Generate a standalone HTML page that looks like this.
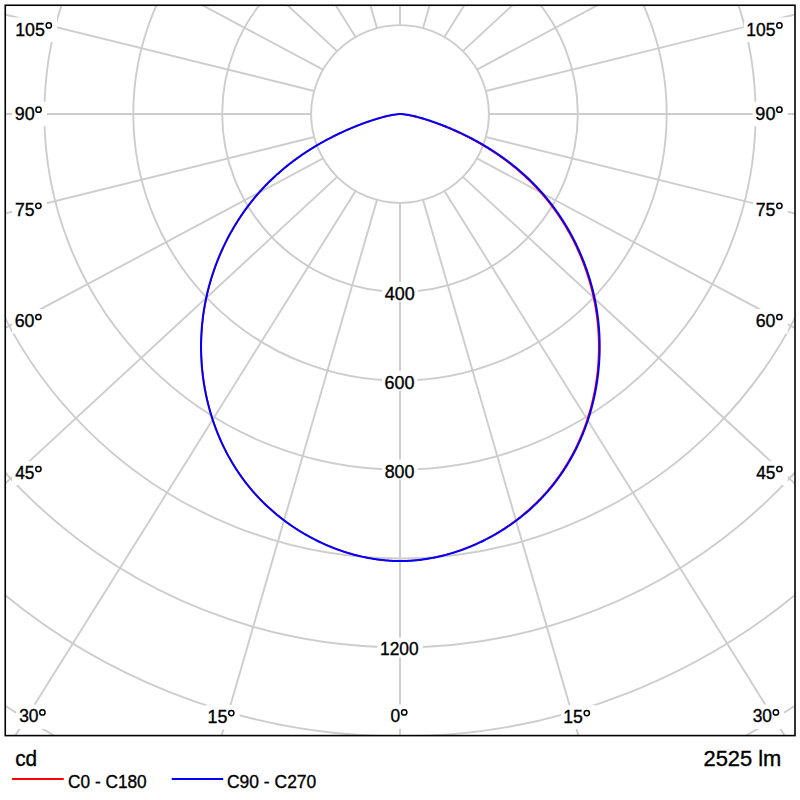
<!DOCTYPE html>
<html><head><meta charset="utf-8"><style>html,body{margin:0;padding:0;background:#fff;width:800px;height:800px;overflow:hidden}svg{display:block}</style></head>
<body><svg width="800" height="800" viewBox="0 0 800 800">
<defs><clipPath id="cp"><rect x="5.25" y="5.25" width="789.75" height="730.35"/></clipPath></defs>
<rect x="0" y="0" width="800" height="800" fill="#fff"/>
<g clip-path="url(#cp)" fill="none" stroke="#cdcdcd" stroke-width="1.90"><circle cx="400.00" cy="114.00" r="88.90"/><circle cx="400.00" cy="114.00" r="177.80"/><circle cx="400.00" cy="114.00" r="266.70"/><circle cx="400.00" cy="114.00" r="355.60"/><circle cx="400.00" cy="114.00" r="444.50"/><circle cx="400.00" cy="114.00" r="533.40"/><circle cx="400.00" cy="114.00" r="622.30"/><circle cx="400.00" cy="114.00" r="711.20"/><circle cx="400.00" cy="114.00" r="800.10"/><line x1="400.00" y1="202.90" x2="400.00" y2="1402.90"/><line x1="376.99" y1="199.87" x2="42.79" y2="1352.39"/><line x1="355.55" y1="190.99" x2="-280.31" y2="1208.68"/><line x1="337.14" y1="176.86" x2="-544.20" y2="991.26"/><line x1="323.01" y1="158.45" x2="-735.74" y2="723.29"/><line x1="314.13" y1="137.01" x2="-850.70" y2="425.42"/><line x1="311.10" y1="114.00" x2="-888.90" y2="114.00"/><line x1="314.13" y1="90.99" x2="-850.70" y2="-197.42"/><line x1="323.01" y1="69.55" x2="-735.74" y2="-495.29"/><line x1="337.14" y1="51.14" x2="-544.20" y2="-763.26"/><line x1="355.55" y1="37.01" x2="-280.31" y2="-980.68"/><line x1="376.99" y1="28.13" x2="42.79" y2="-1124.39"/><line x1="400.00" y1="25.10" x2="400.00" y2="-1174.90"/><line x1="423.01" y1="28.13" x2="757.21" y2="-1124.39"/><line x1="444.45" y1="37.01" x2="1080.31" y2="-980.68"/><line x1="462.86" y1="51.14" x2="1344.20" y2="-763.26"/><line x1="476.99" y1="69.55" x2="1535.74" y2="-495.29"/><line x1="485.87" y1="90.99" x2="1650.70" y2="-197.42"/><line x1="488.90" y1="114.00" x2="1688.90" y2="114.00"/><line x1="485.87" y1="137.01" x2="1650.70" y2="425.42"/><line x1="476.99" y1="158.45" x2="1535.74" y2="723.29"/><line x1="462.86" y1="176.86" x2="1344.20" y2="991.26"/><line x1="444.45" y1="190.99" x2="1080.31" y2="1208.68"/><line x1="423.01" y1="199.87" x2="757.21" y2="1352.39"/></g>
<g fill="#fff"><rect x="13.00" y="17.45" width="44.10" height="24.60"/><rect x="12.00" y="101.75" width="34.85" height="24.50"/><rect x="12.20" y="197.90" width="34.50" height="24.15"/><rect x="12.00" y="309.05" width="34.70" height="24.50"/><rect x="12.00" y="461.05" width="34.70" height="24.10"/><rect x="16.25" y="704.50" width="34.45" height="24.45"/><rect x="744.10" y="17.45" width="43.60" height="24.60"/><rect x="752.70" y="101.75" width="35.00" height="24.50"/><rect x="753.00" y="197.90" width="34.70" height="24.15"/><rect x="753.00" y="309.05" width="34.70" height="24.50"/><rect x="753.00" y="461.05" width="34.70" height="24.10"/><rect x="749.80" y="704.50" width="34.40" height="24.45"/><rect x="205.35" y="705.15" width="34.25" height="24.10"/><rect x="387.60" y="704.50" width="24.90" height="24.45"/><rect x="561.10" y="705.15" width="34.00" height="24.00"/><rect x="382.00" y="282.00" width="35.75" height="19.75"/><rect x="382.00" y="370.90" width="35.50" height="19.80"/><rect x="382.00" y="459.70" width="35.50" height="19.80"/><rect x="377.10" y="637.75" width="45.80" height="19.50"/></g>
<path d="M400.00,114.07 L399.15,114.20 L398.13,114.27 L397.11,114.37 L396.09,114.48 L395.07,114.62 L394.06,114.76 L393.05,114.93 L392.03,115.10 L391.02,115.29 L390.00,115.49 L388.99,115.71 L387.98,115.93 L386.96,116.17 L385.95,116.41 L384.93,116.67 L383.92,116.93 L382.90,117.20 L381.88,117.48 L380.86,117.77 L379.83,118.06 L378.81,118.36 L377.78,118.67 L376.75,118.98 L375.71,119.30 L374.68,119.62 L373.64,119.95 L372.61,120.29 L371.57,120.63 L370.53,120.97 L369.49,121.32 L368.44,121.68 L367.40,122.04 L366.36,122.41 L365.31,122.78 L364.26,123.16 L363.22,123.55 L362.17,123.93 L361.12,124.33 L360.07,124.73 L359.03,125.13 L357.98,125.54 L356.93,125.95 L355.88,126.37 L354.83,126.79 L353.79,127.22 L352.74,127.65 L351.70,128.09 L350.65,128.53 L349.61,128.98 L348.56,129.43 L347.52,129.88 L346.48,130.34 L345.44,130.81 L344.40,131.27 L343.37,131.75 L342.33,132.22 L341.30,132.70 L340.27,133.18 L339.24,133.67 L338.21,134.16 L337.19,134.66 L336.17,135.16 L335.14,135.66 L334.13,136.17 L333.11,136.68 L332.10,137.19 L331.08,137.71 L330.08,138.24 L329.07,138.76 L328.06,139.29 L327.06,139.83 L326.06,140.37 L325.06,140.91 L324.07,141.46 L323.08,142.01 L322.09,142.56 L321.10,143.12 L320.11,143.68 L319.13,144.25 L318.15,144.82 L317.17,145.39 L316.20,145.97 L315.23,146.55 L314.26,147.14 L313.29,147.73 L312.33,148.32 L311.37,148.92 L310.41,149.52 L309.45,150.12 L308.50,150.73 L307.55,151.35 L306.61,151.96 L305.66,152.58 L304.72,153.21 L303.78,153.84 L302.85,154.47 L301.92,155.11 L300.99,155.75 L300.06,156.40 L299.14,157.04 L298.22,157.70 L297.31,158.35 L296.39,159.02 L295.48,159.68 L294.58,160.35 L293.67,161.02 L292.77,161.70 L291.88,162.38 L290.98,163.06 L290.09,163.75 L289.21,164.45 L288.32,165.14 L287.44,165.84 L286.57,166.55 L285.70,167.26 L284.83,167.97 L283.96,168.69 L283.10,169.41 L282.24,170.13 L281.39,170.86 L280.54,171.59 L279.69,172.33 L278.85,173.07 L278.01,173.82 L277.17,174.56 L276.34,175.32 L275.51,176.07 L274.68,176.83 L273.86,177.60 L273.05,178.37 L272.23,179.14 L271.42,179.92 L270.62,180.70 L269.82,181.48 L269.02,182.27 L268.23,183.07 L267.44,183.86 L266.65,184.66 L265.87,185.47 L265.10,186.28 L264.33,187.09 L263.56,187.91 L262.79,188.73 L262.03,189.55 L261.28,190.38 L260.53,191.21 L259.78,192.05 L259.04,192.89 L258.30,193.73 L257.56,194.58 L256.83,195.43 L256.11,196.29 L255.38,197.15 L254.67,198.01 L253.95,198.88 L253.25,199.75 L252.54,200.62 L251.84,201.50 L251.14,202.38 L250.45,203.26 L249.77,204.15 L249.08,205.04 L248.40,205.93 L247.73,206.83 L247.06,207.73 L246.40,208.64 L245.73,209.54 L245.08,210.45 L244.43,211.37 L243.78,212.29 L243.14,213.21 L242.50,214.13 L241.86,215.06 L241.23,215.99 L240.61,216.92 L239.99,217.86 L239.37,218.80 L238.76,219.74 L238.15,220.69 L237.55,221.64 L236.95,222.59 L236.36,223.55 L235.77,224.50 L235.19,225.46 L234.61,226.43 L234.03,227.40 L233.46,228.36 L232.90,229.34 L232.34,230.31 L231.78,231.29 L231.23,232.27 L230.68,233.25 L230.14,234.24 L229.60,235.23 L229.07,236.22 L228.54,237.22 L228.02,238.21 L227.50,239.21 L226.98,240.21 L226.48,241.22 L225.97,242.22 L225.47,243.23 L224.98,244.25 L224.49,245.26 L224.00,246.28 L223.52,247.30 L223.04,248.32 L222.57,249.34 L222.11,250.37 L221.65,251.40 L221.19,252.43 L220.74,253.46 L220.29,254.49 L219.85,255.53 L219.42,256.57 L218.98,257.61 L218.56,258.66 L218.14,259.70 L217.72,260.75 L217.31,261.80 L216.90,262.85 L216.50,263.91 L216.10,264.96 L215.71,266.02 L215.32,267.08 L214.94,268.14 L214.57,269.21 L214.19,270.27 L213.83,271.34 L213.47,272.41 L213.11,273.48 L212.76,274.55 L212.41,275.63 L212.07,276.70 L211.73,277.78 L211.40,278.86 L211.08,279.94 L210.76,281.02 L210.44,282.11 L210.13,283.19 L209.83,284.28 L209.53,285.37 L209.23,286.46 L208.94,287.55 L208.66,288.64 L208.38,289.74 L208.11,290.83 L207.84,291.93 L207.57,293.03 L207.32,294.13 L207.06,295.23 L206.82,296.33 L206.58,297.44 L206.34,298.54 L206.11,299.65 L205.88,300.76 L205.66,301.87 L205.45,302.98 L205.24,304.09 L205.03,305.20 L204.83,306.31 L204.64,307.43 L204.45,308.54 L204.27,309.66 L204.09,310.77 L203.92,311.89 L203.75,313.01 L203.59,314.13 L203.44,315.25 L203.29,316.37 L203.14,317.49 L203.00,318.62 L202.87,319.74 L202.74,320.86 L202.62,321.99 L202.50,323.11 L202.39,324.24 L202.28,325.37 L202.18,326.49 L202.09,327.62 L202.00,328.75 L201.91,329.88 L201.83,331.01 L201.76,332.14 L201.69,333.27 L201.63,334.40 L201.57,335.53 L201.52,336.66 L201.48,337.79 L201.44,338.92 L201.40,340.06 L201.37,341.19 L201.35,342.32 L201.33,343.45 L201.31,344.58 L201.31,345.72 L201.30,346.85 L201.31,347.98 L201.32,349.11 L201.33,350.25 L201.35,351.38 L201.37,352.51 L201.40,353.64 L201.44,354.78 L201.48,355.91 L201.53,357.04 L201.58,358.17 L201.63,359.30 L201.70,360.43 L201.77,361.56 L201.84,362.69 L201.92,363.82 L202.00,364.95 L202.09,366.08 L202.19,367.21 L202.29,368.34 L202.39,369.46 L202.50,370.59 L202.62,371.71 L202.74,372.84 L202.87,373.96 L203.00,375.09 L203.14,376.21 L203.28,377.33 L203.43,378.46 L203.59,379.58 L203.75,380.70 L203.91,381.82 L204.08,382.93 L204.26,384.05 L204.44,385.17 L204.63,386.28 L204.82,387.40 L205.02,388.51 L205.22,389.62 L205.43,390.73 L205.64,391.84 L205.86,392.95 L206.08,394.06 L206.31,395.17 L206.55,396.27 L206.79,397.38 L207.03,398.48 L207.28,399.58 L207.54,400.68 L207.80,401.78 L208.07,402.88 L208.34,403.97 L208.62,405.07 L208.90,406.16 L209.19,407.25 L209.48,408.34 L209.78,409.43 L210.09,410.51 L210.40,411.60 L210.71,412.68 L211.03,413.76 L211.36,414.84 L211.69,415.92 L212.02,416.99 L212.36,418.07 L212.71,419.14 L213.06,420.21 L213.42,421.28 L213.78,422.35 L214.15,423.41 L214.53,424.47 L214.90,425.53 L215.29,426.59 L215.68,427.65 L216.07,428.70 L216.47,429.75 L216.88,430.80 L217.29,431.85 L217.70,432.90 L218.12,433.94 L218.55,434.98 L218.98,436.02 L219.42,437.05 L219.86,438.09 L220.31,439.12 L220.76,440.15 L221.22,441.17 L221.68,442.20 L222.15,443.22 L222.63,444.24 L223.10,445.25 L223.59,446.27 L224.08,447.28 L224.57,448.28 L225.07,449.29 L225.58,450.29 L226.09,451.29 L226.61,452.29 L227.13,453.28 L227.65,454.27 L228.18,455.26 L228.72,456.25 L229.26,457.23 L229.81,458.21 L230.36,459.19 L230.92,460.16 L231.49,461.13 L232.05,462.10 L232.63,463.06 L233.21,464.02 L233.79,464.98 L234.38,465.93 L234.97,466.89 L235.57,467.83 L236.18,468.78 L236.79,469.72 L237.40,470.66 L238.03,471.59 L238.65,472.52 L239.28,473.45 L239.92,474.38 L240.56,475.30 L241.21,476.21 L241.86,477.13 L242.52,478.04 L243.18,478.94 L243.85,479.85 L244.52,480.75 L245.20,481.64 L245.88,482.53 L246.57,483.42 L247.26,484.30 L247.96,485.18 L248.66,486.06 L249.37,486.93 L250.09,487.80 L250.81,488.67 L251.53,489.53 L252.26,490.38 L253.00,491.24 L253.74,492.09 L254.48,492.93 L255.23,493.77 L255.99,494.61 L256.75,495.44 L257.51,496.27 L258.28,497.09 L259.06,497.91 L259.84,498.73 L260.62,499.54 L261.41,500.34 L262.20,501.15 L263.00,501.94 L263.81,502.74 L264.61,503.53 L265.42,504.31 L266.24,505.09 L267.06,505.87 L267.89,506.64 L268.72,507.41 L269.55,508.17 L270.39,508.93 L271.24,509.69 L272.08,510.43 L272.94,511.18 L273.79,511.92 L274.65,512.66 L275.52,513.39 L276.39,514.11 L277.26,514.84 L278.14,515.55 L279.02,516.26 L279.90,516.97 L280.79,517.68 L281.68,518.37 L282.58,519.07 L283.48,519.75 L284.38,520.44 L285.29,521.12 L286.20,521.79 L287.12,522.46 L288.04,523.12 L288.96,523.78 L289.89,524.44 L290.82,525.09 L291.75,525.73 L292.69,526.37 L293.63,527.00 L294.58,527.63 L295.52,528.26 L296.48,528.87 L297.43,529.49 L298.39,530.10 L299.35,530.70 L300.31,531.30 L301.28,531.89 L302.25,532.48 L303.23,533.06 L304.20,533.64 L305.18,534.21 L306.17,534.77 L307.15,535.34 L308.14,535.89 L309.13,536.44 L310.13,536.99 L311.13,537.52 L312.13,538.06 L313.13,538.59 L314.14,539.11 L315.15,539.63 L316.16,540.14 L317.18,540.64 L318.19,541.14 L319.21,541.64 L320.24,542.13 L321.26,542.61 L322.29,543.09 L323.32,543.56 L324.35,544.03 L325.39,544.49 L326.42,544.94 L327.46,545.39 L328.50,545.83 L329.55,546.27 L330.60,546.70 L331.64,547.13 L332.70,547.55 L333.75,547.96 L334.80,548.37 L335.86,548.77 L336.92,549.17 L337.98,549.56 L339.04,549.94 L340.11,550.32 L341.18,550.69 L342.25,551.06 L343.32,551.42 L344.39,551.77 L345.46,552.12 L346.54,552.46 L347.62,552.79 L348.70,553.12 L349.78,553.44 L350.86,553.76 L351.95,554.07 L353.03,554.37 L354.12,554.67 L355.21,554.96 L356.30,555.24 L357.39,555.52 L358.48,555.79 L359.58,556.06 L360.67,556.31 L361.77,556.57 L362.87,556.81 L363.97,557.05 L365.07,557.28 L366.17,557.51 L367.27,557.73 L368.38,557.94 L369.48,558.15 L370.59,558.35 L371.69,558.54 L372.80,558.72 L373.91,558.90 L375.02,559.07 L376.13,559.24 L377.24,559.40 L378.35,559.55 L379.47,559.70 L380.58,559.83 L381.69,559.97 L382.81,560.09 L383.92,560.21 L385.04,560.32 L386.16,560.42 L387.27,560.52 L388.39,560.61 L389.51,560.69 L390.63,560.77 L391.74,560.83 L392.86,560.90 L393.98,560.95 L395.10,561.00 L396.22,561.04 L397.34,561.07 L398.46,561.09 L399.58,561.11 L400.00,561.12 L400.42,561.11 L401.54,561.09 L402.66,561.07 L403.78,561.04 L404.90,561.00 L406.02,560.95 L407.14,560.90 L408.26,560.83 L409.37,560.77 L410.49,560.69 L411.61,560.61 L412.73,560.52 L413.84,560.42 L414.96,560.32 L416.08,560.21 L417.19,560.09 L418.31,559.97 L419.42,559.83 L420.53,559.70 L421.65,559.55 L422.76,559.40 L423.87,559.24 L424.98,559.07 L426.09,558.90 L427.20,558.72 L428.31,558.54 L429.41,558.35 L430.52,558.15 L431.62,557.94 L432.73,557.73 L433.83,557.51 L434.93,557.28 L436.03,557.05 L437.13,556.81 L438.23,556.57 L439.33,556.31 L440.42,556.06 L441.52,555.79 L442.61,555.52 L443.70,555.24 L444.79,554.96 L445.88,554.67 L446.97,554.37 L448.05,554.07 L449.14,553.76 L450.22,553.44 L451.30,553.12 L452.38,552.79 L453.46,552.46 L454.54,552.12 L455.61,551.77 L456.68,551.42 L457.75,551.06 L458.82,550.69 L459.89,550.32 L460.96,549.94 L462.02,549.56 L463.08,549.17 L464.14,548.77 L465.20,548.37 L466.25,547.96 L467.30,547.55 L468.36,547.13 L469.40,546.70 L470.45,546.27 L471.50,545.83 L472.54,545.39 L473.58,544.94 L474.61,544.49 L475.65,544.03 L476.68,543.56 L477.71,543.09 L478.74,542.61 L479.76,542.13 L480.79,541.64 L481.81,541.14 L482.82,540.64 L483.84,540.14 L484.85,539.63 L485.86,539.11 L486.87,538.59 L487.87,538.06 L488.87,537.52 L489.87,536.99 L490.87,536.44 L491.86,535.89 L492.85,535.34 L493.83,534.77 L494.82,534.21 L495.80,533.64 L496.77,533.06 L497.75,532.48 L498.72,531.89 L499.69,531.30 L500.65,530.70 L501.61,530.10 L502.57,529.49 L503.52,528.87 L504.48,528.26 L505.42,527.63 L506.37,527.00 L507.31,526.37 L508.25,525.73 L509.18,525.09 L510.11,524.44 L511.04,523.78 L511.96,523.12 L512.88,522.46 L513.80,521.79 L514.71,521.12 L515.62,520.44 L516.52,519.75 L517.42,519.07 L518.32,518.37 L519.21,517.68 L520.10,516.97 L520.98,516.26 L521.86,515.55 L522.74,514.84 L523.61,514.11 L524.48,513.39 L525.35,512.66 L526.21,511.92 L527.06,511.18 L527.92,510.43 L528.76,509.69 L529.61,508.93 L530.45,508.17 L531.28,507.41 L532.11,506.64 L532.94,505.87 L533.76,505.09 L534.58,504.31 L535.39,503.53 L536.19,502.74 L537.00,501.94 L537.80,501.15 L538.59,500.34 L539.38,499.54 L540.16,498.73 L540.94,497.91 L541.72,497.09 L542.49,496.27 L543.25,495.44 L544.01,494.61 L544.77,493.77 L545.52,492.93 L546.26,492.09 L547.00,491.24 L547.74,490.38 L548.47,489.53 L549.19,488.67 L549.91,487.80 L550.63,486.93 L551.34,486.06 L552.04,485.18 L552.74,484.30 L553.43,483.42 L554.12,482.53 L554.80,481.64 L555.48,480.75 L556.15,479.85 L556.82,478.94 L557.48,478.04 L558.14,477.13 L558.79,476.21 L559.44,475.30 L560.08,474.38 L560.72,473.45 L561.35,472.52 L561.97,471.59 L562.60,470.66 L563.21,469.72 L563.82,468.78 L564.43,467.83 L565.03,466.89 L565.62,465.93 L566.21,464.98 L566.79,464.02 L567.37,463.06 L567.95,462.10 L568.51,461.13 L569.08,460.16 L569.64,459.19 L570.19,458.21 L570.74,457.23 L571.28,456.25 L571.82,455.26 L572.35,454.27 L572.87,453.28 L573.39,452.29 L573.91,451.29 L574.42,450.29 L574.93,449.29 L575.43,448.28 L575.92,447.28 L576.41,446.27 L576.90,445.25 L577.37,444.24 L577.85,443.22 L578.32,442.20 L578.78,441.17 L579.24,440.15 L579.69,439.12 L580.14,438.09 L580.58,437.05 L581.02,436.02 L581.45,434.98 L581.88,433.94 L582.30,432.90 L582.71,431.85 L583.12,430.80 L583.53,429.75 L583.93,428.70 L584.32,427.65 L584.71,426.59 L585.10,425.53 L585.47,424.47 L585.85,423.41 L586.22,422.35 L586.58,421.28 L586.94,420.21 L587.29,419.14 L587.64,418.07 L587.98,416.99 L588.31,415.92 L588.64,414.84 L588.97,413.76 L589.29,412.68 L589.60,411.60 L589.91,410.51 L590.22,409.43 L590.52,408.34 L590.81,407.25 L591.10,406.16 L591.38,405.07 L591.66,403.97 L591.93,402.88 L592.20,401.78 L592.46,400.68 L592.72,399.58 L592.97,398.48 L593.21,397.38 L593.45,396.27 L593.69,395.17 L593.92,394.06 L594.14,392.95 L594.36,391.84 L594.57,390.73 L594.78,389.62 L594.98,388.51 L595.18,387.40 L595.37,386.28 L595.56,385.17 L595.74,384.05 L595.92,382.93 L596.09,381.82 L596.25,380.70 L596.41,379.58 L596.57,378.46 L596.72,377.33 L596.86,376.21 L597.00,375.09 L597.13,373.96 L597.26,372.84 L597.38,371.71 L597.50,370.59 L597.61,369.46 L597.71,368.34 L597.81,367.21 L597.91,366.08 L598.00,364.95 L598.08,363.82 L598.16,362.69 L598.23,361.56 L598.30,360.43 L598.37,359.30 L598.42,358.17 L598.47,357.04 L598.52,355.91 L598.56,354.78 L598.60,353.64 L598.63,352.51 L598.65,351.38 L598.67,350.25 L598.68,349.11 L598.69,347.98 L598.70,346.85 L598.69,345.72 L598.69,344.58 L598.67,343.45 L598.65,342.32 L598.63,341.19 L598.60,340.06 L598.56,338.92 L598.52,337.79 L598.48,336.66 L598.43,335.53 L598.37,334.40 L598.31,333.27 L598.24,332.14 L598.17,331.01 L598.09,329.88 L598.00,328.75 L597.91,327.62 L597.82,326.49 L597.72,325.37 L597.61,324.24 L597.50,323.11 L597.38,321.99 L597.26,320.86 L597.13,319.74 L597.00,318.62 L596.86,317.49 L596.71,316.37 L596.56,315.25 L596.41,314.13 L596.25,313.01 L596.08,311.89 L595.91,310.77 L595.73,309.66 L595.55,308.54 L595.36,307.43 L595.17,306.31 L594.97,305.20 L594.76,304.09 L594.55,302.98 L594.34,301.87 L594.12,300.76 L593.89,299.65 L593.66,298.54 L593.42,297.44 L593.18,296.33 L592.94,295.23 L592.68,294.13 L592.43,293.03 L592.16,291.93 L591.89,290.83 L591.62,289.74 L591.34,288.64 L591.06,287.55 L590.77,286.46 L590.47,285.37 L590.17,284.28 L589.87,283.19 L589.56,282.11 L589.24,281.02 L588.92,279.94 L588.60,278.86 L588.27,277.78 L587.93,276.70 L587.59,275.63 L587.24,274.55 L586.89,273.48 L586.53,272.41 L586.17,271.34 L585.81,270.27 L585.43,269.21 L585.06,268.14 L584.68,267.08 L584.29,266.02 L583.90,264.96 L583.50,263.91 L583.10,262.85 L582.69,261.80 L582.28,260.75 L581.86,259.70 L581.44,258.66 L581.02,257.61 L580.58,256.57 L580.15,255.53 L579.71,254.49 L579.26,253.46 L578.81,252.43 L578.35,251.40 L577.89,250.37 L577.43,249.34 L576.96,248.32 L576.48,247.30 L576.00,246.28 L575.51,245.26 L575.02,244.25 L574.53,243.23 L574.03,242.22 L573.52,241.22 L573.02,240.21 L572.50,239.21 L571.98,238.21 L571.46,237.22 L570.93,236.22 L570.40,235.23 L569.86,234.24 L569.32,233.25 L568.77,232.27 L568.22,231.29 L567.66,230.31 L567.10,229.34 L566.54,228.36 L565.97,227.40 L565.39,226.43 L564.81,225.46 L564.23,224.50 L563.64,223.55 L563.05,222.59 L562.45,221.64 L561.85,220.69 L561.24,219.74 L560.63,218.80 L560.01,217.86 L559.39,216.92 L558.77,215.99 L558.14,215.06 L557.50,214.13 L556.86,213.21 L556.22,212.29 L555.57,211.37 L554.92,210.45 L554.27,209.54 L553.60,208.64 L552.94,207.73 L552.27,206.83 L551.60,205.93 L550.92,205.04 L550.23,204.15 L549.55,203.26 L548.86,202.38 L548.16,201.50 L547.46,200.62 L546.75,199.75 L546.05,198.88 L545.33,198.01 L544.62,197.15 L543.89,196.29 L543.17,195.43 L542.44,194.58 L541.70,193.73 L540.96,192.89 L540.22,192.05 L539.47,191.21 L538.72,190.38 L537.97,189.55 L537.21,188.73 L536.44,187.91 L535.67,187.09 L534.90,186.28 L534.13,185.47 L533.35,184.66 L532.56,183.86 L531.77,183.07 L530.98,182.27 L530.18,181.48 L529.38,180.70 L528.58,179.92 L527.77,179.14 L526.95,178.37 L526.14,177.60 L525.32,176.83 L524.49,176.07 L523.66,175.32 L522.83,174.56 L521.99,173.82 L521.15,173.07 L520.31,172.33 L519.46,171.59 L518.61,170.86 L517.76,170.13 L516.90,169.41 L516.04,168.69 L515.17,167.97 L514.30,167.26 L513.43,166.55 L512.56,165.84 L511.68,165.14 L510.79,164.45 L509.91,163.75 L509.02,163.06 L508.12,162.38 L507.23,161.70 L506.33,161.02 L505.42,160.35 L504.52,159.68 L503.61,159.02 L502.69,158.35 L501.78,157.70 L500.86,157.04 L499.94,156.40 L499.01,155.75 L498.08,155.11 L497.15,154.47 L496.22,153.84 L495.28,153.21 L494.34,152.58 L493.39,151.96 L492.45,151.35 L491.50,150.73 L490.55,150.12 L489.59,149.52 L488.63,148.92 L487.67,148.32 L486.71,147.73 L485.74,147.14 L484.77,146.55 L483.80,145.97 L482.83,145.39 L481.85,144.82 L480.87,144.25 L479.89,143.68 L478.90,143.12 L477.91,142.56 L476.92,142.01 L475.93,141.46 L474.94,140.91 L473.94,140.37 L472.94,139.83 L471.94,139.29 L470.93,138.76 L469.92,138.24 L468.92,137.71 L467.90,137.19 L466.89,136.68 L465.87,136.17 L464.86,135.66 L463.83,135.16 L462.81,134.66 L461.79,134.16 L460.76,133.67 L459.73,133.18 L458.70,132.70 L457.67,132.22 L456.63,131.75 L455.60,131.27 L454.56,130.81 L453.52,130.34 L452.48,129.88 L451.44,129.43 L450.39,128.98 L449.35,128.53 L448.30,128.09 L447.26,127.65 L446.21,127.22 L445.17,126.79 L444.12,126.37 L443.07,125.95 L442.02,125.54 L440.97,125.13 L439.93,124.73 L438.88,124.33 L437.83,123.93 L436.78,123.55 L435.74,123.16 L434.69,122.78 L433.64,122.41 L432.60,122.04 L431.56,121.68 L430.51,121.32 L429.47,120.97 L428.43,120.63 L427.39,120.29 L426.36,119.95 L425.32,119.62 L424.29,119.30 L423.25,118.98 L422.22,118.67 L421.19,118.36 L420.17,118.06 L419.14,117.77 L418.12,117.48 L417.10,117.20 L416.08,116.93 L415.07,116.67 L414.05,116.41 L413.04,116.17 L412.02,115.93 L411.01,115.71 L410.00,115.49 L408.98,115.29 L407.97,115.10 L406.95,114.93 L405.94,114.76 L404.93,114.62 L403.91,114.48 L402.89,114.37 L401.87,114.27 L400.85,114.20 L400.00,114.07" fill="none" stroke="#ff0000" stroke-width="1.5" stroke-linejoin="round"/>
<path d="M400.00,114.07 L399.15,114.12 L398.13,114.20 L397.11,114.30 L396.09,114.42 L395.07,114.55 L394.06,114.69 L393.04,114.85 L392.03,115.03 L391.02,115.21 L390.00,115.41 L388.99,115.62 L387.97,115.84 L386.96,116.07 L385.94,116.32 L384.93,116.57 L383.91,116.83 L382.89,117.10 L381.87,117.38 L380.85,117.66 L379.82,117.95 L378.79,118.25 L377.77,118.55 L376.73,118.86 L375.70,119.18 L374.67,119.50 L373.63,119.83 L372.59,120.16 L371.55,120.50 L370.51,120.84 L369.47,121.19 L368.42,121.55 L367.38,121.91 L366.33,122.27 L365.29,122.65 L364.24,123.02 L363.19,123.40 L362.14,123.79 L361.10,124.18 L360.05,124.58 L359.00,124.98 L357.95,125.39 L356.90,125.80 L355.85,126.22 L354.80,126.64 L353.75,127.07 L352.71,127.50 L351.66,127.94 L350.61,128.38 L349.57,128.82 L348.52,129.27 L347.48,129.72 L346.44,130.18 L345.40,130.64 L344.36,131.11 L343.32,131.58 L342.29,132.06 L341.25,132.54 L340.22,133.02 L339.19,133.50 L338.16,134.00 L337.14,134.49 L336.11,134.99 L335.09,135.49 L334.07,136.00 L333.05,136.51 L332.04,137.02 L331.03,137.54 L330.01,138.06 L329.01,138.59 L328.00,139.12 L327.00,139.65 L326.00,140.19 L325.00,140.73 L324.00,141.28 L323.01,141.83 L322.02,142.38 L321.03,142.94 L320.04,143.50 L319.06,144.07 L318.07,144.64 L317.10,145.21 L316.12,145.79 L315.15,146.37 L314.18,146.95 L313.21,147.54 L312.24,148.13 L311.28,148.73 L310.32,149.33 L309.37,149.94 L308.41,150.55 L307.46,151.16 L306.51,151.78 L305.57,152.40 L304.62,153.02 L303.69,153.65 L302.75,154.28 L301.82,154.92 L300.89,155.56 L299.96,156.21 L299.04,156.86 L298.11,157.51 L297.20,158.17 L296.28,158.83 L295.37,159.49 L294.46,160.16 L293.56,160.83 L292.66,161.51 L291.76,162.19 L290.87,162.87 L289.97,163.56 L289.09,164.26 L288.20,164.95 L287.32,165.65 L286.44,166.36 L285.57,167.07 L284.70,167.78 L283.83,168.50 L282.97,169.22 L282.11,169.94 L281.25,170.67 L280.40,171.40 L279.55,172.14 L278.71,172.88 L277.86,173.63 L277.03,174.37 L276.19,175.13 L275.36,175.88 L274.54,176.65 L273.71,177.41 L272.90,178.18 L272.08,178.95 L271.27,179.73 L270.46,180.51 L269.66,181.30 L268.86,182.08 L268.07,182.88 L267.28,183.68 L266.49,184.48 L265.71,185.28 L264.93,186.09 L264.16,186.90 L263.39,187.72 L262.62,188.54 L261.86,189.37 L261.10,190.20 L260.35,191.03 L259.60,191.87 L258.86,192.71 L258.12,193.55 L257.38,194.40 L256.65,195.25 L255.92,196.11 L255.20,196.97 L254.48,197.83 L253.77,198.70 L253.05,199.57 L252.35,200.44 L251.65,201.32 L250.95,202.20 L250.26,203.08 L249.57,203.97 L248.88,204.86 L248.20,205.76 L247.53,206.66 L246.86,207.56 L246.19,208.46 L245.53,209.37 L244.87,210.28 L244.22,211.20 L243.57,212.12 L242.92,213.04 L242.28,213.96 L241.65,214.89 L241.02,215.82 L240.39,216.76 L239.77,217.70 L239.15,218.64 L238.54,219.58 L237.93,220.53 L237.33,221.48 L236.73,222.43 L236.13,223.39 L235.54,224.35 L234.96,225.31 L234.38,226.27 L233.80,227.24 L233.23,228.21 L232.66,229.18 L232.10,230.16 L231.54,231.14 L230.99,232.12 L230.44,233.11 L229.90,234.09 L229.36,235.08 L228.82,236.08 L228.29,237.07 L227.77,238.07 L227.25,239.07 L226.74,240.07 L226.23,241.08 L225.72,242.09 L225.22,243.10 L224.72,244.11 L224.23,245.13 L223.75,246.14 L223.26,247.16 L222.79,248.19 L222.32,249.21 L221.85,250.24 L221.39,251.27 L220.93,252.30 L220.48,253.34 L220.03,254.37 L219.59,255.41 L219.15,256.45 L218.72,257.50 L218.29,258.54 L217.87,259.59 L217.45,260.64 L217.04,261.69 L216.63,262.74 L216.23,263.80 L215.83,264.85 L215.44,265.91 L215.05,266.98 L214.67,268.04 L214.29,269.10 L213.92,270.17 L213.55,271.24 L213.19,272.31 L212.83,273.38 L212.48,274.46 L212.13,275.53 L211.79,276.61 L211.45,277.69 L211.12,278.77 L210.79,279.85 L210.47,280.94 L210.16,282.02 L209.85,283.11 L209.54,284.20 L209.24,285.29 L208.94,286.38 L208.65,287.48 L208.37,288.57 L208.09,289.67 L207.82,290.76 L207.55,291.86 L207.28,292.96 L207.03,294.07 L206.77,295.17 L206.52,296.27 L206.28,297.38 L206.04,298.48 L205.81,299.59 L205.59,300.70 L205.37,301.81 L205.15,302.92 L204.94,304.04 L204.74,305.15 L204.54,306.26 L204.34,307.38 L204.15,308.50 L203.97,309.61 L203.79,310.73 L203.62,311.85 L203.45,312.97 L203.29,314.09 L203.14,315.22 L202.99,316.34 L202.84,317.46 L202.70,318.59 L202.57,319.71 L202.44,320.84 L202.32,321.96 L202.20,323.09 L202.09,324.22 L201.98,325.35 L201.88,326.48 L201.79,327.61 L201.70,328.74 L201.61,329.87 L201.54,331.00 L201.46,332.13 L201.39,333.26 L201.33,334.39 L201.28,335.53 L201.22,336.66 L201.18,337.79 L201.14,338.93 L201.10,340.06 L201.07,341.19 L201.05,342.33 L201.03,343.46 L201.02,344.60 L201.01,345.73 L201.01,346.86 L201.01,348.00 L201.02,349.13 L201.03,350.27 L201.05,351.40 L201.08,352.53 L201.11,353.67 L201.15,354.80 L201.19,355.93 L201.23,357.07 L201.29,358.20 L201.34,359.33 L201.41,360.47 L201.47,361.60 L201.55,362.73 L201.63,363.86 L201.71,364.99 L201.80,366.12 L201.90,367.25 L202.00,368.38 L202.11,369.51 L202.22,370.64 L202.33,371.76 L202.46,372.89 L202.59,374.02 L202.72,375.14 L202.86,376.27 L203.00,377.39 L203.15,378.51 L203.31,379.64 L203.47,380.76 L203.63,381.88 L203.80,383.00 L203.98,384.12 L204.16,385.24 L204.35,386.35 L204.54,387.47 L204.74,388.58 L204.95,389.70 L205.15,390.81 L205.37,391.92 L205.59,393.03 L205.81,394.14 L206.04,395.25 L206.28,396.35 L206.52,397.46 L206.77,398.56 L207.02,399.67 L207.28,400.77 L207.54,401.87 L207.81,402.96 L208.08,404.06 L208.36,405.16 L208.64,406.25 L208.93,407.34 L209.23,408.43 L209.53,409.52 L209.83,410.61 L210.14,411.70 L210.46,412.78 L210.78,413.86 L211.11,414.94 L211.44,416.02 L211.78,417.10 L212.12,418.17 L212.47,419.25 L212.82,420.32 L213.18,421.39 L213.54,422.46 L213.91,423.52 L214.29,424.58 L214.67,425.65 L215.05,426.70 L215.44,427.76 L215.84,428.82 L216.24,429.87 L216.65,430.92 L217.06,431.97 L217.47,433.02 L217.90,434.06 L218.32,435.10 L218.76,436.14 L219.20,437.18 L219.64,438.21 L220.09,439.24 L220.54,440.27 L221.00,441.30 L221.47,442.32 L221.94,443.35 L222.41,444.36 L222.89,445.38 L223.38,446.40 L223.87,447.41 L224.36,448.42 L224.87,449.42 L225.37,450.42 L225.89,451.43 L226.40,452.42 L226.93,453.42 L227.45,454.41 L227.99,455.40 L228.52,456.38 L229.07,457.37 L229.62,458.35 L230.17,459.32 L230.73,460.30 L231.30,461.27 L231.87,462.24 L232.44,463.20 L233.02,464.16 L233.61,465.12 L234.20,466.08 L234.79,467.03 L235.39,467.98 L236.00,468.92 L236.61,469.86 L237.23,470.80 L237.85,471.74 L238.48,472.67 L239.11,473.60 L239.75,474.52 L240.39,475.44 L241.04,476.36 L241.69,477.27 L242.35,478.18 L243.02,479.09 L243.69,479.99 L244.36,480.89 L245.04,481.79 L245.72,482.68 L246.41,483.57 L247.11,484.45 L247.81,485.33 L248.52,486.21 L249.23,487.08 L249.94,487.95 L250.66,488.81 L251.39,489.67 L252.12,490.53 L252.86,491.38 L253.60,492.23 L254.35,493.08 L255.10,493.92 L255.85,494.75 L256.61,495.58 L257.38,496.41 L258.15,497.24 L258.93,498.06 L259.71,498.87 L260.50,499.68 L261.29,500.49 L262.08,501.29 L262.88,502.09 L263.69,502.88 L264.50,503.67 L265.31,504.46 L266.13,505.24 L266.95,506.01 L267.78,506.79 L268.61,507.55 L269.44,508.31 L270.29,509.07 L271.13,509.83 L271.98,510.58 L272.83,511.32 L273.69,512.06 L274.55,512.80 L275.42,513.53 L276.29,514.25 L277.16,514.97 L278.04,515.69 L278.92,516.40 L279.81,517.11 L280.70,517.81 L281.59,518.51 L282.49,519.20 L283.39,519.89 L284.30,520.57 L285.21,521.25 L286.12,521.92 L287.04,522.59 L287.96,523.26 L288.89,523.91 L289.81,524.57 L290.74,525.22 L291.68,525.86 L292.62,526.50 L293.56,527.13 L294.51,527.76 L295.46,528.38 L296.41,529.00 L297.36,529.61 L298.32,530.22 L299.29,530.82 L300.25,531.42 L301.22,532.01 L302.19,532.60 L303.17,533.18 L304.15,533.75 L305.13,534.32 L306.11,534.89 L307.10,535.45 L308.09,536.00 L309.08,536.55 L310.08,537.10 L311.08,537.63 L312.08,538.17 L313.09,538.69 L314.09,539.22 L315.10,539.73 L316.12,540.24 L317.13,540.75 L318.15,541.25 L319.17,541.74 L320.20,542.23 L321.22,542.71 L322.25,543.19 L323.28,543.66 L324.32,544.12 L325.35,544.58 L326.39,545.04 L327.43,545.48 L328.47,545.93 L329.52,546.36 L330.57,546.79 L331.62,547.22 L332.67,547.64 L333.72,548.05 L334.78,548.45 L335.84,548.85 L336.90,549.25 L337.96,549.64 L339.02,550.02 L340.09,550.40 L341.16,550.77 L342.23,551.13 L343.30,551.49 L344.37,551.84 L345.45,552.19 L346.52,552.53 L347.60,552.86 L348.68,553.19 L349.76,553.51 L350.85,553.82 L351.93,554.13 L353.02,554.43 L354.11,554.73 L355.20,555.02 L356.29,555.30 L357.38,555.58 L358.47,555.85 L359.57,556.11 L360.66,556.37 L361.76,556.62 L362.86,556.86 L363.96,557.10 L365.06,557.33 L366.16,557.55 L367.27,557.77 L368.37,557.98 L369.48,558.19 L370.58,558.38 L371.69,558.58 L372.80,558.76 L373.91,558.94 L375.02,559.11 L376.13,559.27 L377.24,559.43 L378.35,559.58 L379.46,559.72 L380.58,559.86 L381.69,559.99 L382.81,560.11 L383.92,560.23 L385.04,560.34 L386.15,560.44 L387.27,560.54 L388.39,560.62 L389.51,560.70 L390.62,560.78 L391.74,560.85 L392.86,560.90 L393.98,560.96 L395.10,561.00 L396.22,561.04 L397.34,561.07 L398.46,561.10 L399.58,561.11 L400.00,561.12 L400.42,561.11 L401.54,561.10 L402.66,561.08 L403.78,561.05 L404.90,561.02 L406.02,560.98 L407.14,560.93 L408.26,560.87 L409.38,560.81 L410.49,560.74 L411.61,560.66 L412.73,560.57 L413.85,560.48 L414.96,560.38 L416.08,560.28 L417.20,560.17 L418.31,560.05 L419.43,559.92 L420.54,559.79 L421.66,559.65 L422.77,559.50 L423.88,559.35 L424.99,559.19 L426.10,559.02 L427.21,558.84 L428.32,558.66 L429.43,558.48 L430.54,558.28 L431.64,558.08 L432.75,557.87 L433.85,557.66 L434.96,557.44 L436.06,557.21 L437.16,556.98 L438.26,556.74 L439.36,556.49 L440.45,556.23 L441.55,555.97 L442.65,555.71 L443.74,555.43 L444.83,555.15 L445.92,554.87 L447.01,554.58 L448.10,554.28 L449.19,553.97 L450.27,553.66 L451.36,553.34 L452.44,553.02 L453.52,552.69 L454.60,552.35 L455.67,552.01 L456.75,551.66 L457.82,551.31 L458.89,550.95 L459.96,550.58 L461.03,550.20 L462.10,549.83 L463.16,549.44 L464.22,549.05 L465.28,548.65 L466.34,548.25 L467.40,547.84 L468.45,547.42 L469.50,547.00 L470.55,546.57 L471.60,546.14 L472.65,545.70 L473.69,545.26 L474.73,544.80 L475.77,544.35 L476.80,543.89 L477.84,543.42 L478.87,542.94 L479.90,542.46 L480.92,541.98 L481.95,541.49 L482.97,540.99 L483.98,540.49 L485.00,539.98 L486.01,539.47 L487.02,538.95 L488.03,538.42 L489.04,537.89 L490.04,537.36 L491.04,536.81 L492.03,536.27 L493.03,535.72 L494.02,535.16 L495.00,534.60 L495.99,534.03 L496.97,533.45 L497.95,532.87 L498.92,532.29 L499.89,531.70 L500.86,531.10 L501.83,530.50 L502.79,529.90 L503.75,529.29 L504.70,528.67 L505.66,528.05 L506.60,527.42 L507.55,526.79 L508.49,526.16 L509.43,525.52 L510.36,524.87 L511.30,524.22 L512.22,523.56 L513.15,522.90 L514.07,522.23 L514.98,521.56 L515.90,520.88 L516.81,520.20 L517.71,519.52 L518.61,518.82 L519.51,518.13 L520.40,517.43 L521.29,516.72 L522.18,516.01 L523.06,515.30 L523.94,514.58 L524.81,513.85 L525.68,513.12 L526.55,512.39 L527.41,511.65 L528.26,510.90 L529.12,510.16 L529.96,509.40 L530.81,508.65 L531.65,507.89 L532.48,507.12 L533.31,506.35 L534.14,505.57 L534.96,504.79 L535.78,504.01 L536.59,503.22 L537.40,502.43 L538.20,501.63 L539.00,500.83 L539.80,500.02 L540.59,499.21 L541.37,498.40 L542.15,497.58 L542.92,496.75 L543.69,495.93 L544.46,495.09 L545.22,494.26 L545.98,493.42 L546.73,492.57 L547.47,491.73 L548.21,490.87 L548.95,490.02 L549.68,489.16 L550.40,488.29 L551.12,487.42 L551.83,486.55 L552.54,485.67 L553.25,484.79 L553.95,483.91 L554.64,483.02 L555.33,482.13 L556.01,481.23 L556.69,480.33 L557.36,479.43 L558.03,478.52 L558.69,477.61 L559.35,476.70 L560.00,475.78 L560.65,474.86 L561.29,473.93 L561.92,473.00 L562.55,472.07 L563.18,471.14 L563.80,470.20 L564.42,469.25 L565.03,468.31 L565.63,467.36 L566.23,466.41 L566.82,465.45 L567.41,464.49 L568.00,463.53 L568.58,462.56 L569.15,461.59 L569.72,460.62 L570.28,459.65 L570.84,458.67 L571.39,457.69 L571.94,456.70 L572.48,455.72 L573.01,454.73 L573.55,453.73 L574.07,452.74 L574.59,451.74 L575.11,450.74 L575.62,449.73 L576.12,448.72 L576.62,447.71 L577.12,446.70 L577.61,445.68 L578.09,444.67 L578.57,443.64 L579.04,442.62 L579.51,441.59 L579.97,440.57 L580.43,439.53 L580.88,438.50 L581.33,437.46 L581.77,436.43 L582.20,435.38 L582.64,434.34 L583.06,433.29 L583.48,432.25 L583.90,431.20 L584.30,430.14 L584.71,429.09 L585.11,428.03 L585.50,426.97 L585.89,425.91 L586.27,424.85 L586.65,423.78 L587.02,422.71 L587.39,421.64 L587.75,420.57 L588.11,419.50 L588.46,418.42 L588.80,417.34 L589.14,416.26 L589.48,415.18 L589.81,414.10 L590.13,413.01 L590.45,411.93 L590.76,410.84 L591.07,409.75 L591.37,408.66 L591.67,407.56 L591.96,406.47 L592.25,405.37 L592.53,404.27 L592.80,403.17 L593.08,402.07 L593.34,400.97 L593.60,399.86 L593.85,398.76 L594.10,397.65 L594.35,396.54 L594.58,395.43 L594.82,394.32 L595.04,393.21 L595.27,392.10 L595.48,390.98 L595.69,389.87 L595.90,388.75 L596.10,387.63 L596.29,386.51 L596.48,385.39 L596.67,384.27 L596.84,383.15 L597.02,382.03 L597.19,380.90 L597.35,379.78 L597.50,378.65 L597.66,377.52 L597.80,376.40 L597.94,375.27 L598.08,374.14 L598.21,373.01 L598.33,371.88 L598.45,370.75 L598.56,369.62 L598.67,368.48 L598.77,367.35 L598.87,366.22 L598.96,365.08 L599.05,363.95 L599.13,362.82 L599.20,361.68 L599.27,360.54 L599.34,359.41 L599.40,358.27 L599.45,357.14 L599.50,356.00 L599.54,354.86 L599.58,353.72 L599.61,352.59 L599.63,351.45 L599.65,350.31 L599.67,349.17 L599.68,348.03 L599.68,346.90 L599.68,345.76 L599.67,344.62 L599.66,343.48 L599.64,342.34 L599.62,341.21 L599.59,340.07 L599.56,338.93 L599.52,337.79 L599.47,336.66 L599.42,335.52 L599.36,334.38 L599.30,333.25 L599.23,332.11 L599.16,330.98 L599.08,329.84 L599.00,328.71 L598.91,327.57 L598.81,326.44 L598.71,325.31 L598.61,324.17 L598.49,323.04 L598.38,321.91 L598.25,320.78 L598.13,319.65 L597.99,318.52 L597.85,317.39 L597.71,316.26 L597.56,315.14 L597.40,314.01 L597.24,312.89 L597.07,311.76 L596.90,310.64 L596.72,309.52 L596.54,308.39 L596.35,307.27 L596.15,306.15 L595.95,305.04 L595.75,303.92 L595.54,302.80 L595.32,301.69 L595.10,300.57 L594.87,299.46 L594.64,298.35 L594.40,297.24 L594.16,296.13 L593.91,295.02 L593.66,293.91 L593.40,292.81 L593.13,291.70 L592.86,290.60 L592.59,289.50 L592.31,288.40 L592.02,287.30 L591.73,286.20 L591.43,285.11 L591.13,284.01 L590.82,282.92 L590.51,281.83 L590.19,280.74 L589.87,279.65 L589.54,278.56 L589.21,277.48 L588.87,276.40 L588.53,275.32 L588.18,274.24 L587.82,273.16 L587.47,272.08 L587.10,271.01 L586.73,269.94 L586.36,268.87 L585.98,267.80 L585.59,266.73 L585.20,265.67 L584.81,264.60 L584.41,263.54 L584.01,262.48 L583.60,261.43 L583.18,260.37 L582.76,259.32 L582.34,258.27 L581.91,257.22 L581.47,256.17 L581.03,255.13 L580.59,254.09 L580.14,253.05 L579.68,252.01 L579.22,250.98 L578.76,249.94 L578.29,248.91 L577.81,247.88 L577.34,246.86 L576.85,245.83 L576.36,244.81 L575.87,243.80 L575.37,242.78 L574.87,241.77 L574.36,240.76 L573.85,239.75 L573.33,238.74 L572.80,237.74 L572.28,236.74 L571.75,235.74 L571.21,234.74 L570.67,233.75 L570.12,232.76 L569.57,231.77 L569.01,230.79 L568.45,229.81 L567.89,228.83 L567.32,227.85 L566.74,226.88 L566.16,225.91 L565.58,224.94 L564.99,223.98 L564.40,223.02 L563.80,222.06 L563.20,221.10 L562.59,220.15 L561.98,219.20 L561.36,218.26 L560.74,217.31 L560.12,216.37 L559.49,215.44 L558.85,214.50 L558.21,213.57 L557.57,212.65 L556.92,211.72 L556.27,210.80 L555.61,209.89 L554.95,208.97 L554.29,208.06 L553.62,207.16 L552.94,206.25 L552.26,205.35 L551.58,204.46 L550.89,203.56 L550.20,202.67 L549.50,201.79 L548.80,200.90 L548.10,200.03 L547.39,199.15 L546.68,198.28 L545.96,197.41 L545.23,196.55 L544.51,195.69 L543.78,194.83 L543.04,193.98 L542.30,193.13 L541.56,192.28 L540.81,191.44 L540.06,190.60 L539.30,189.77 L538.54,188.94 L537.78,188.11 L537.01,187.29 L536.23,186.47 L535.46,185.66 L534.67,184.85 L533.89,184.04 L533.10,183.24 L532.30,182.44 L531.51,181.65 L530.70,180.86 L529.90,180.07 L529.09,179.29 L528.27,178.51 L527.46,177.74 L526.63,176.97 L525.81,176.20 L524.98,175.44 L524.14,174.69 L523.31,173.93 L522.47,173.18 L521.62,172.44 L520.77,171.70 L519.92,170.96 L519.06,170.23 L518.20,169.50 L517.34,168.77 L516.47,168.05 L515.60,167.34 L514.73,166.62 L513.85,165.91 L512.97,165.21 L512.09,164.51 L511.20,163.81 L510.31,163.12 L509.41,162.43 L508.51,161.75 L507.61,161.07 L506.71,160.39 L505.80,159.72 L504.89,159.05 L503.97,158.39 L503.06,157.73 L502.13,157.07 L501.21,156.42 L500.28,155.77 L499.35,155.12 L498.42,154.48 L497.48,153.85 L496.54,153.22 L495.60,152.59 L494.65,151.96 L493.71,151.34 L492.75,150.73 L491.80,150.11 L490.84,149.51 L489.88,148.90 L488.92,148.30 L487.96,147.71 L486.99,147.11 L486.02,146.53 L485.04,145.94 L484.07,145.36 L483.09,144.78 L482.10,144.21 L481.12,143.64 L480.13,143.08 L479.14,142.52 L478.15,141.96 L477.16,141.41 L476.16,140.86 L475.16,140.32 L474.16,139.78 L473.15,139.24 L472.15,138.71 L471.14,138.18 L470.13,137.66 L469.11,137.14 L468.10,136.62 L467.08,136.11 L466.06,135.60 L465.04,135.09 L464.01,134.59 L462.99,134.10 L461.96,133.60 L460.93,133.11 L459.89,132.63 L458.86,132.15 L457.82,131.67 L456.78,131.20 L455.74,130.73 L454.70,130.27 L453.66,129.81 L452.61,129.35 L451.57,128.90 L450.52,128.45 L449.47,128.01 L448.42,127.57 L447.37,127.14 L446.32,126.71 L445.27,126.29 L444.22,125.87 L443.17,125.45 L442.12,125.04 L441.07,124.64 L440.02,124.24 L438.97,123.85 L437.91,123.46 L436.86,123.07 L435.81,122.69 L434.76,122.32 L433.72,121.95 L432.67,121.59 L431.62,121.23 L430.58,120.88 L429.53,120.54 L428.49,120.20 L427.45,119.86 L426.41,119.53 L425.37,119.21 L424.33,118.89 L423.30,118.58 L422.26,118.28 L421.23,117.98 L420.20,117.69 L419.18,117.40 L418.15,117.12 L417.13,116.85 L416.11,116.59 L415.09,116.34 L414.07,116.09 L413.05,115.86 L412.04,115.63 L411.02,115.42 L410.01,115.22 L408.99,115.03 L407.98,114.85 L406.96,114.68 L405.95,114.53 L404.93,114.40 L403.91,114.27 L402.90,114.16 L401.88,114.05 L400.85,113.93 L400.00,114.07" fill="none" stroke="#0000ff" stroke-width="2" stroke-linejoin="round"/>
<rect x="5.25" y="5.25" width="789.75" height="730.35" fill="none" stroke="#000" stroke-width="1.6"/>
<g font-family="Liberation Sans" fill="#000"><text transform="translate(15.153,35.593) scale(0.17774,0.18821)" font-size="100" stroke="#000" stroke-width="1.913">105</text><text transform="translate(14.678,119.794) scale(0.17941,0.18679)" font-size="100" stroke="#000" stroke-width="1.912">90</text><text transform="translate(14.895,215.598) scale(0.17598,0.18182)" font-size="100" stroke="#000" stroke-width="1.956">75</text><text transform="translate(14.685,327.094) scale(0.17794,0.18679)" font-size="100" stroke="#000" stroke-width="1.919">60</text><text transform="translate(15.229,478.698) scale(0.17286,0.18111)" font-size="100" stroke="#000" stroke-width="1.978">45</text><text transform="translate(19.130,722.495) scale(0.17379,0.18608)" font-size="100" stroke="#000" stroke-width="1.945">30</text><text transform="translate(746.279,35.593) scale(0.17452,0.18821)" font-size="100" stroke="#000" stroke-width="1.930">105</text><text transform="translate(755.371,119.794) scale(0.18088,0.18679)" font-size="100" stroke="#000" stroke-width="1.904">90</text><text transform="translate(755.685,215.598) scale(0.17794,0.18182)" font-size="100" stroke="#000" stroke-width="1.946">75</text><text transform="translate(755.685,327.094) scale(0.17794,0.18679)" font-size="100" stroke="#000" stroke-width="1.919">60</text><text transform="translate(756.229,478.698) scale(0.17286,0.18111)" font-size="100" stroke="#000" stroke-width="1.978">45</text><text transform="translate(752.682,722.495) scale(0.17330,0.18608)" font-size="100" stroke="#000" stroke-width="1.948">30</text><text transform="translate(207.495,722.798) scale(0.17879,0.18111)" font-size="100" stroke="#000" stroke-width="1.945">15</text><text transform="translate(390.479,722.495) scale(0.17396,0.18608)" font-size="100" stroke="#000" stroke-width="1.944">0</text><text transform="translate(563.265,722.699) scale(0.17626,0.17969)" font-size="100" stroke="#000" stroke-width="1.967">15</text><text transform="translate(384.816,300.194) scale(0.17950,0.18679)" font-size="100" stroke="#000" stroke-width="1.911">400</text><text transform="translate(384.478,389.094) scale(0.17943,0.18679)" font-size="100" stroke="#000" stroke-width="1.911">600</text><text transform="translate(384.662,477.894) scale(0.17830,0.18679)" font-size="100" stroke="#000" stroke-width="1.917">800</text><text transform="translate(380.038,655.448) scale(0.17333,0.18182)" font-size="100" stroke="#000" stroke-width="1.971">1200</text></g>
<g fill="none" stroke="#000" stroke-width="1.5"><ellipse cx="48.80" cy="25.40" rx="2.65" ry="2.6"/><ellipse cx="38.55" cy="109.70" rx="2.65" ry="2.6"/><ellipse cx="38.40" cy="205.85" rx="2.65" ry="2.6"/><ellipse cx="38.40" cy="317.00" rx="2.65" ry="2.6"/><ellipse cx="38.40" cy="469.00" rx="2.65" ry="2.6"/><ellipse cx="42.40" cy="712.45" rx="2.65" ry="2.6"/><ellipse cx="779.40" cy="25.40" rx="2.65" ry="2.6"/><ellipse cx="779.40" cy="109.70" rx="2.65" ry="2.6"/><ellipse cx="779.40" cy="205.85" rx="2.65" ry="2.6"/><ellipse cx="779.40" cy="317.00" rx="2.65" ry="2.6"/><ellipse cx="779.40" cy="469.00" rx="2.65" ry="2.6"/><ellipse cx="775.90" cy="712.45" rx="2.65" ry="2.6"/><ellipse cx="231.30" cy="713.10" rx="2.65" ry="2.6"/><ellipse cx="404.20" cy="712.45" rx="2.65" ry="2.6"/><ellipse cx="586.80" cy="713.10" rx="2.65" ry="2.6"/></g>
<g font-family="Liberation Sans" fill="#000"><text transform="translate(15.143,765.673) scale(0.20789,0.21730)" font-size="100" stroke="#000" stroke-width="1.646">cd</text><text transform="translate(703.480,765.771) scale(0.21904,0.22003)" font-size="100" stroke="#000" stroke-width="1.594">2525 lm</text><text transform="translate(68.062,787.792) scale(0.17260,0.18963)" font-size="100" stroke="#000" stroke-width="1.932">C0 - C180</text><text transform="translate(227.002,787.792) scale(0.17460,0.18963)" font-size="100" stroke="#000" stroke-width="1.922">C90 - C270</text></g>
<line x1="12" y1="779" x2="63.75" y2="779" stroke="#ff0000" stroke-width="2"/>
<line x1="171.7" y1="779" x2="223.2" y2="779" stroke="#0000ff" stroke-width="2"/>
</svg></body></html>
